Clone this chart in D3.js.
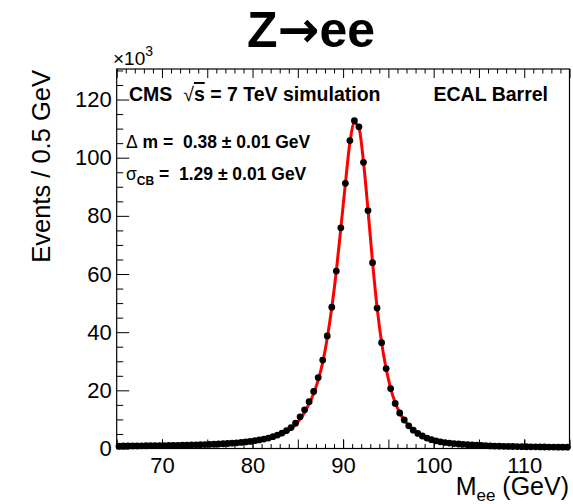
<!DOCTYPE html>
<html>
<head>
<meta charset="utf-8">
<script src="https://cdn.jsdelivr.net/npm/d3@7"></script>
<style>
  body { margin: 0; background: #fff; }
  text { font-family: "Liberation Sans", Arial, Helvetica, sans-serif; white-space: pre; }
</style>
</head>
<body>
<div id="chart-area"></div>
<script>
/*
*    Z -> ee invariant mass, ECAL barrel simulation
*/
// bin centres, 0.5 GeV wide bins from 65 to 115
var massBins = d3.range(65.25, 115, 0.5);

// events per bin, in units of 10^3
var eventsK = [
  0.85, 0.86, 0.87, 0.89, 0.90, 0.92, 0.94, 0.96, 0.98, 1.00,
  1.02, 1.05, 1.08, 1.10, 1.13, 1.17, 1.20, 1.25, 1.30, 1.35,
  1.40, 1.47, 1.55, 1.63, 1.72, 1.83, 1.95, 2.10, 2.25, 2.45,
  2.70, 2.95, 3.25, 3.60, 4.05, 4.60, 5.30, 6.15, 7.20, 8.70,
  10.9, 13.3, 16.1, 19.6, 24.4, 30.4, 38.7, 48.6, 61.0, 75.9,
  91.2, 105.9, 112.7, 110.6, 98.4, 81.8, 63.9, 48.3, 36.4, 27.5,
  20.6, 15.5, 12.2, 9.8, 7.8, 6.3, 5.2, 4.3, 3.6, 3.05,
  2.65, 2.30, 2.05, 1.85, 1.68, 1.54, 1.42, 1.30, 1.20, 1.11,
  1.03, 0.96, 0.90, 0.85, 0.80, 0.76, 0.72, 0.69, 0.66, 0.63,
  0.60, 0.58, 0.56, 0.54, 0.52, 0.50, 0.49, 0.47, 0.46, 0.45
];

// fitted line shape, sampled at the range edges and the bin centres
var fitMass = [65].concat(massBins, [115]);
var fitK = [
  0.70,
  0.72, 0.74, 0.76, 0.78, 0.80, 0.82, 0.84, 0.87, 0.89, 0.92,
  0.95, 0.98, 1.01, 1.04, 1.08, 1.12, 1.16, 1.20, 1.25, 1.30,
  1.36, 1.42, 1.49, 1.57, 1.66, 1.76, 1.88, 2.01, 2.16, 2.34,
  2.55, 2.80, 3.08, 3.42, 3.83, 4.33, 4.95, 5.75, 6.80, 8.20,
  10.1, 12.5, 15.4, 18.9, 23.5, 29.6, 38.0, 48.4, 61.0, 75.8,
  91.0, 105.2, 111.9, 110.2, 98.6, 82.0, 64.2, 48.6, 36.5, 27.5,
  20.7, 15.8, 12.3, 9.8, 7.9, 6.4, 5.3, 4.4, 3.7, 3.15,
  2.72, 2.37, 2.08, 1.85, 1.66, 1.50, 1.37, 1.25, 1.15, 1.06,
  0.98, 0.91, 0.85, 0.80, 0.75, 0.71, 0.67, 0.64, 0.61, 0.58,
  0.55, 0.53, 0.51, 0.49, 0.47, 0.45, 0.44, 0.42, 0.41, 0.40,
  0.39
];

var xTickLabels = [70, 80, 90, 100, 110];
var yTickLabels = [0, 20, 40, 60, 80, 100, 120];

var fitText = ["0.38 \u00b1 0.01 GeV", "1.29 \u00b1 0.01 GeV"];

var width = 573, height = 504;
var frameL = 116.7, frameR = 569.5, frameT = 69, frameB = 448.5;

var svg = d3.select("#chart-area")
  .append("svg")
  .attr("width", width)
  .attr("height", height);

var x = d3.scaleLinear().domain([65, 115]).range([frameL, frameR]);
var y = d3.scaleLinear().domain([0, 130.5]).range([frameB, frameT]);

// title
var title = svg.append("text")
  .attr("x", 311)
  .attr("y", 47)
  .attr("text-anchor", "middle")
  .attr("font-size", "50px")
  .attr("font-weight", "bold")
  .attr("textLength", 128)
  .attr("lengthAdjust", "spacingAndGlyphs");
title.append("tspan").text("Z");
title.append("tspan").attr("font-family", "DejaVu Sans").text("\u2192");
title.append("tspan").text("ee");

// x axis ticks, all pointing into the frame
var xMinor = d3.range(66, 115, 1).filter(function(d) { return d % 5 !== 0; });
var xMid = d3.range(65, 116, 5);

function xTicks(g, vals, size, isTop) {
  var ax = isTop ? d3.axisTop(x) : d3.axisBottom(x);
  ax.tickValues(vals).tickSize(-size).tickFormat("");
  g.call(ax);
  g.select(".domain").remove();
  g.selectAll("line").attr("stroke", "#000");
}

svg.append("g").attr("transform", "translate(0," + frameB + ")")
  .call(xTicks, xMinor, 4.5, false);
svg.append("g").attr("transform", "translate(0," + frameB + ")")
  .call(xTicks, xMid, 9, false);
svg.append("g").attr("transform", "translate(0," + frameT + ")")
  .call(xTicks, xMinor, 4.5, true);
svg.append("g").attr("transform", "translate(0," + frameT + ")")
  .call(xTicks, xMid, 9, true);

var xAxis = svg.append("g")
  .attr("transform", "translate(0," + frameB + ")")
  .call(d3.axisBottom(x).tickValues(xTickLabels).tickSize(-9).tickPadding(9));
xAxis.select(".domain").remove();
xAxis.selectAll("line").attr("stroke", "#000");
xAxis.selectAll("text")
  .attr("font-size", "22px")
  .attr("font-family", "Liberation Sans, Arial, sans-serif")
  .attr("fill", "#000");

// y axis
var yMinor = d3.range(5, 131, 5).filter(function(d) { return d % 20 !== 0; });
var yMinorAxis = svg.append("g")
  .attr("transform", "translate(" + frameL + ",0)")
  .call(d3.axisLeft(y).tickValues(yMinor).tickSize(-6.5).tickFormat(""));
yMinorAxis.select(".domain").remove();
yMinorAxis.selectAll("line").attr("stroke", "#000");

var yAxis = svg.append("g")
  .attr("transform", "translate(" + frameL + ",0)")
  .call(d3.axisLeft(y).tickValues(yTickLabels).tickSize(-12.5).tickPadding(5));
yAxis.select(".domain").remove();
yAxis.selectAll("line").attr("stroke", "#000");
yAxis.selectAll("text")
  .attr("font-size", "22px")
  .attr("font-family", "Liberation Sans, Arial, sans-serif")
  .attr("fill", "#000");

// frame
svg.append("rect")
  .attr("x", frameL)
  .attr("y", frameT)
  .attr("width", frameR - frameL)
  .attr("height", frameB - frameT)
  .attr("fill", "none")
  .attr("stroke", "#000")
  .attr("stroke-width", 1.2);

// exponent
var expo = svg.append("text")
  .attr("x", 113)
  .attr("y", 65)
  .attr("font-size", "19px");
expo.append("tspan").text("\u00d710");
expo.append("tspan").attr("dy", -9).attr("font-size", "14px").text("3");

// axis titles
svg.append("text")
  .attr("transform", "translate(50,70) rotate(-90)")
  .attr("text-anchor", "end")
  .attr("font-size", "25.5px")
  .text("Events / 0.5 GeV");

var xTitle = svg.append("text")
  .attr("x", 569)
  .attr("y", 495)
  .attr("text-anchor", "end")
  .attr("font-size", "25px");
xTitle.append("tspan").text("M");
xTitle.append("tspan").attr("dy", 6).attr("font-size", "17px").text("ee");
xTitle.append("tspan").attr("dy", -6).text(" (GeV)");

// fit curve
var line = d3.line()
  .x(function(d, i) { return x(fitMass[i]); })
  .y(function(d) { return y(d); })
  .curve(d3.curveMonotoneX);

svg.append("path")
  .datum(fitK)
  .attr("d", line)
  .attr("fill", "none")
  .attr("stroke", "#ff0000")
  .attr("stroke-width", 3);

// data points
svg.selectAll("circle.pt")
  .data(eventsK)
  .enter()
  .append("circle")
  .attr("class", "pt")
  .attr("cx", function(d, i) { return x(massBins[i]); })
  .attr("cy", function(d) { return y(d); })
  .attr("r", 3.4)
  .attr("fill", "#000");

// labels inside the frame
var cms = svg.append("text")
  .attr("x", 129)
  .attr("y", 101)
  .attr("font-size", "19.5px")
  .attr("font-weight", "bold");
cms.append("tspan").text("CMS  ");
cms.append("tspan").attr("font-weight", "normal").text("\u221a");
cms.append("tspan").attr("text-decoration", "overline").text("s");
cms.append("tspan").text(" = 7 TeV simulation");

svg.append("text")
  .attr("x", 548)
  .attr("y", 101)
  .attr("text-anchor", "end")
  .attr("font-size", "19.5px")
  .attr("font-weight", "bold")
  .text("ECAL Barrel");

var dm = svg.append("text")
  .attr("x", 126)
  .attr("y", 148)
  .attr("font-size", "17.5px")
  .attr("font-weight", "bold");
dm.append("tspan").attr("font-weight", "normal").text("\u0394");
dm.append("tspan").text(" m =  " + fitText[0]);

var sg = svg.append("text")
  .attr("x", 126)
  .attr("y", 180)
  .attr("font-size", "17.5px")
  .attr("font-weight", "bold");
sg.append("tspan").attr("font-weight", "normal").text("\u03c3");
sg.append("tspan").attr("dy", 5).attr("font-size", "12px").text("CB");
sg.append("tspan").attr("dy", -5).text(" =  " + fitText[1]);
</script>
</body>
</html>
